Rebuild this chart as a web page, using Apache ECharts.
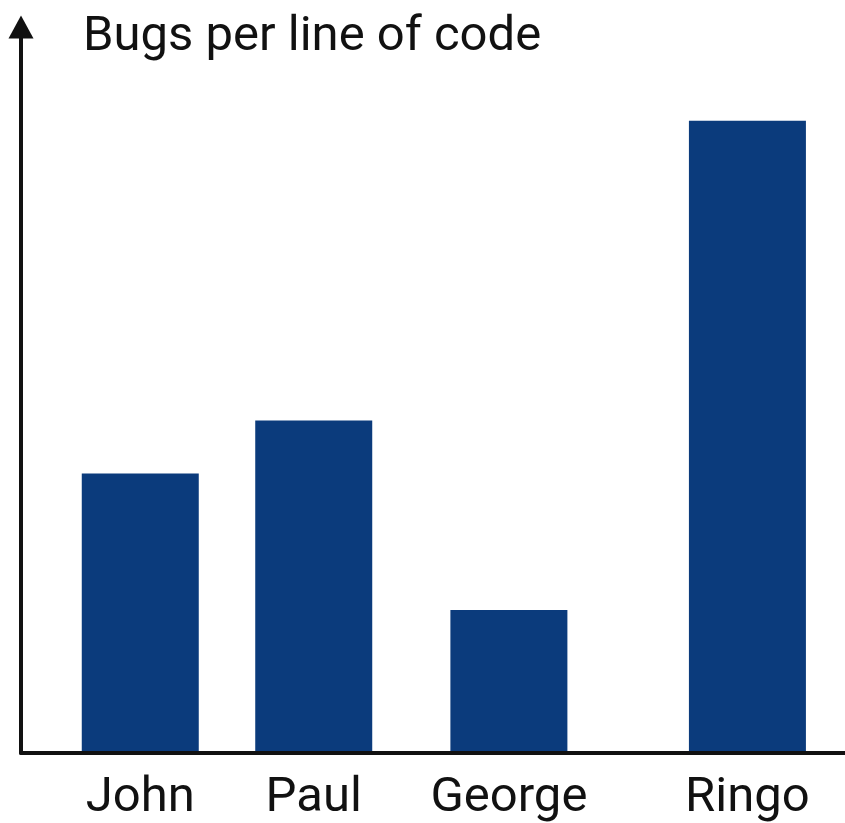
<!DOCTYPE html>
<html>
<head>
<meta charset="utf-8">
<title>Bugs per line of code</title>
<script src="https://cdn.jsdelivr.net/npm/echarts@6/dist/echarts.min.js"></script>
<style>
  html, body { margin: 0; padding: 0; background: #ffffff; }
  #chart { width: 845px; height: 823px; }
</style>
</head>
<body>
<div id="chart"></div>
<script>
// Chart data
const categories = ['John', 'Paul', 'George', 'Ringo'];
const bugsPerLine = [38.5, 45.8, 19.7, 87.1];
const yMax = 100;

// Layout: the x axis is split into narrow slots so the columns can sit
// at uneven distances; each name occupies one slot, the rest stay blank.
const SLOT_COUNT = 38;
const slotIndex = [5, 13, 22, 33];

const axisCategories = new Array(SLOT_COUNT).fill('');
const axisValues = new Array(SLOT_COUNT).fill(null);
categories.forEach((name, i) => {
  axisCategories[slotIndex[i]] = name;
  axisValues[slotIndex[i]] = bugsPerLine[i];
});

const FONT = 'Roboto, "Noto Sans", sans-serif';
const INK = '#111111';

const chart = echarts.init(document.getElementById('chart'), null, { renderer: 'canvas' });

chart.setOption({
  backgroundColor: '#ffffff',
  animation: false,
  title: {
    text: 'Bugs per line of code',
    left: 78,
    top: 8,
    textStyle: { fontFamily: FONT, fontSize: 49, fontWeight: 'normal', color: INK }
  },
  grid: { left: 21, right: 0, top: 27, bottom: 69, containLabel: false },
  xAxis: {
    type: 'category',
    data: axisCategories,
    z: 5,
    axisLine: { lineStyle: { color: INK, width: 4 } },
    axisTick: { show: false },
    axisLabel: {
      interval: 0,
      margin: 21,
      fontFamily: FONT,
      fontSize: 49,
      color: INK
    },
    splitLine: { show: false }
  },
  yAxis: {
    type: 'value',
    min: 0,
    max: yMax,
    z: 5,
    axisLine: {
      show: true,
      lineStyle: { color: INK, width: 4 },
      symbol: ['none', 'triangle'],
      symbolSize: [25, 23]
    },
    axisTick: { show: false },
    axisLabel: { show: false },
    splitLine: { show: false }
  },
  series: [{
    type: 'bar',
    data: axisValues,
    barWidth: 117,
    itemStyle: { color: '#0b3b7c' }
  }]
});
</script>
</body>
</html>
